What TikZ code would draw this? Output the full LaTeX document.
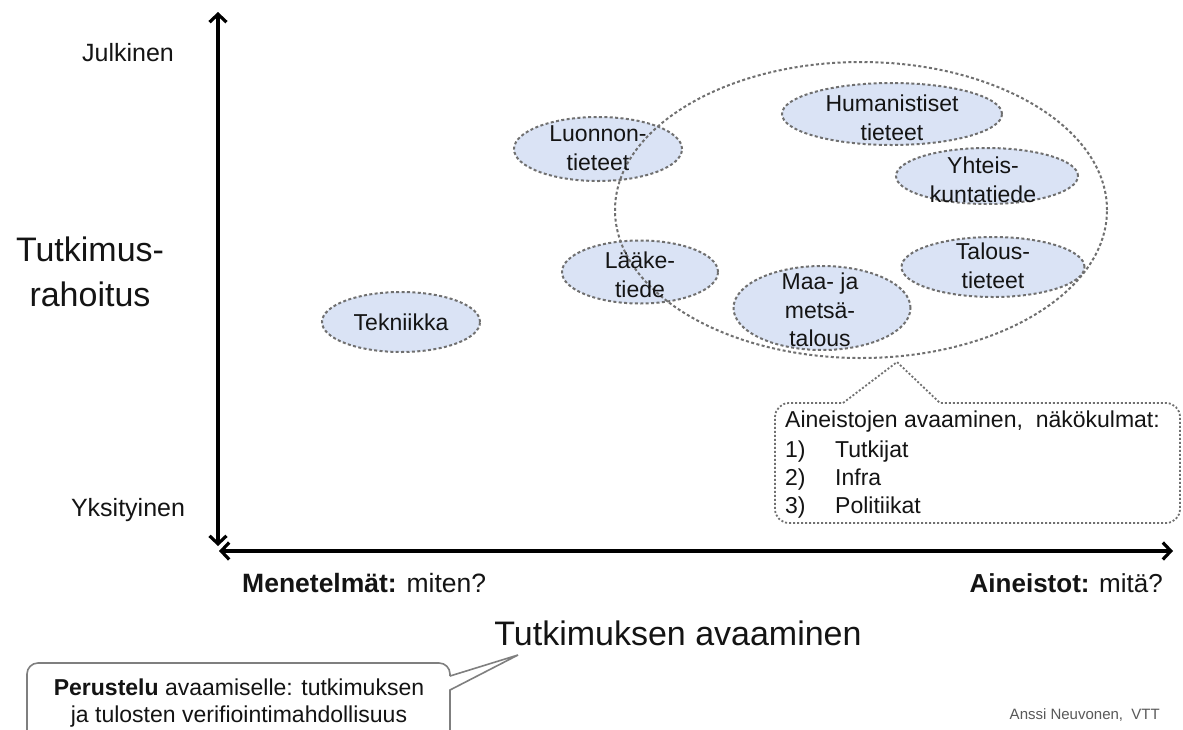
\documentclass[tikz,border=0pt]{standalone}
\usepackage{fontspec}
\setmainfont{Liberation Sans}
\usetikzlibrary{arrows.meta,shapes.geometric}
\definecolor{fieldfill}{HTML}{DAE3F5}
\definecolor{dashgray}{HTML}{707070}
\definecolor{boxgray}{HTML}{7F7F7F}
\definecolor{txt}{HTML}{141414}
\begin{document}
\begin{tikzpicture}[x=1pt,y=-1pt,
  axis/.style={line width=3.2pt,{Straight Barb[length=8pt,width=17pt]}-{Straight Barb[length=8pt,width=17pt]}},
  field/.style={ellipse, draw=dashgray, fill=fieldfill, line width=2pt, dash pattern=on 3pt off 2.4pt, inner sep=0pt},
  bigfield/.style={ellipse, draw=dashgray, line width=2pt, dash pattern=on 3pt off 2.4pt, inner sep=0pt},
  fieldtxt/.style={align=center, font=\fontsize{23}{28.5}\selectfont, text=txt, inner sep=0pt},
  axtxt/.style={font=\fontsize{25}{30}\selectfont, text=txt, inner sep=0pt},
  bigtxt/.style={font=\fontsize{34}{45}\selectfont, text=txt, inner sep=0pt, align=center},
  cltxt/.style={font=\fontsize{23}{28}\selectfont, text=txt, inner sep=0pt, anchor=base west},
  dotline/.style={draw=dashgray, line width=1.8pt, dash pattern=on 2pt off 2pt},
  boxline/.style={draw=boxgray, line width=1.6pt}
]
\useasboundingbox[fill=white] (0,0) rectangle (1183,729);

% axes
\coordinate (ytop) at (218,12);
\coordinate (ybot) at (218,546);
\coordinate (xleft) at (219,551);
\coordinate (xright) at (1173,551);
\draw[axis] (ybot) -- (ytop);
\draw[axis] (xleft) -- (xright);

% axis labels
\node[axtxt] (julk) at (128,53) {Julkinen};
\node[axtxt] (yksi) at (128,510) {Yksityinen};
\node[bigtxt] (rah) at (90,272) {Tutkimus-\\rahoitus};
\node[axtxt, font=\fontsize{26.5}{30}\selectfont, anchor=base west] (men) at (242,592) {\textbf{Menetelmät:} miten?};
\node[axtxt, font=\fontsize{26}{30}\selectfont, anchor=base east] (ain) at (1163,592) {\textbf{Aineistot:} mitä?};
\node[bigtxt, anchor=base] (avaa) at (678,645) {Tutkimuksen avaaminen};

% fields
\node[field, minimum width=158, minimum height=60] (tek) at (401,322) {};
\node[field, minimum width=168, minimum height=64] (luo) at (598,149) {};
\node[field, minimum width=156, minimum height=63] (laa) at (640,272) {};
\node[field, minimum width=220, minimum height=62] (hum) at (892,114) {};
\node[field, minimum width=182, minimum height=56] (yht) at (987,176) {};
\node[field, minimum width=183, minimum height=60] (tal) at (993,267) {};
\node[field, minimum width=177, minimum height=84] (maa) at (822,308) {};
\node[bigfield, minimum width=492, minimum height=296] (big) at (861,210) {};

\node[fieldtxt] (tekt) at (401,322) {Tekniikka};
\node[fieldtxt] (luot) at (598,148) {Luonnon-\\tieteet};
\node[fieldtxt] (laat) at (640,275) {Lääke-\\tiede};
\node[fieldtxt] (humt) at (892,118) {Humanistiset\\tieteet};
\node[fieldtxt] (yhtt) at (983,180) {Yhteis-\\kuntatiede};
\node[fieldtxt] (talt) at (993,266) {Talous-\\tieteet};
\node[fieldtxt] (maat) at (820,310) {Maa- ja\\metsä-\\talous};

% callout for aineistot
\coordinate (ctip) at (897,362);
\draw[dotline] (843,403) -- (ctip) -- (940,403) [rounded corners=14pt] -- (1180,403) -- (1180,523) -- (775,523) -- (775,403) -- (843,403);
\node[cltxt] (c0) at (785,427) {Aineistojen avaaminen,\ \ näkökulmat:};
\node[cltxt] (c1) at (785,457) {\makebox[50pt][l]{1)}Tutkijat};
\node[cltxt] (c2) at (785,485) {\makebox[50pt][l]{2)}Infra};
\node[cltxt] (c3) at (785,513) {\makebox[50pt][l]{3)}Politiikat};

% bottom callout
\coordinate (btip) at (518,655);
\draw[boxline, fill=white] (450,676) -- (btip) -- (450,690) [rounded corners=11pt] -- (450,745) -- (27,745) -- (27,663) -- (450,663) -- (450,676);
\node[font=\fontsize{23}{27}\selectfont, text=txt, align=center, inner sep=0pt] (pers) at (239,703) {\textbf{Perustelu} avaamiselle: tutkimuksen\\ja tulosten verifiointimahdollisuus};

\node[font=\fontsize{15}{18}\selectfont, text=black!65, anchor=east, inner sep=0pt] (auth) at (1160,715) {Anssi Neuvonen,\ \ VTT};
\end{tikzpicture}
\end{document}
